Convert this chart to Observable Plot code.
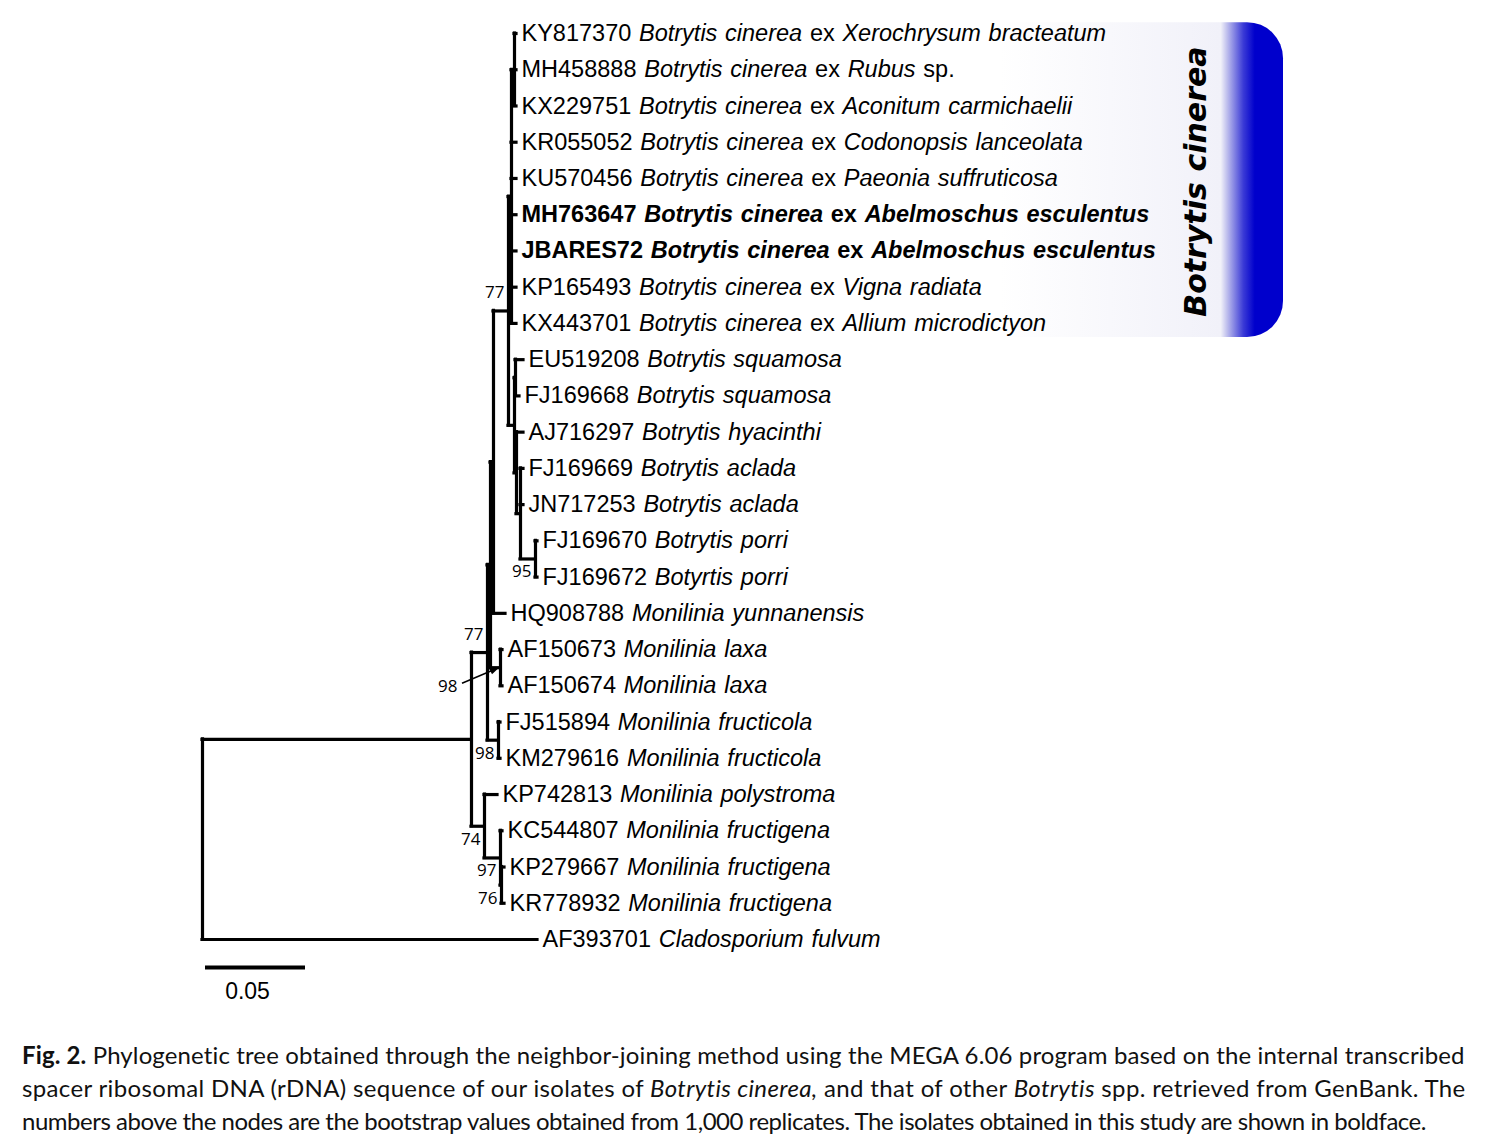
<!DOCTYPE html>
<html><head><meta charset="utf-8">
<script src="https://cdn.jsdelivr.net/npm/d3@7"></script>
<script src="https://cdn.jsdelivr.net/npm/@observablehq/plot@0.6"></script>
<style>
body{margin:0;background:#fff;}
#caption{font-family:Lato,"Noto Sans",sans-serif;color:#111;padding-left:22px;width:1443px;}
#caption div{white-space:nowrap;line-height:33px;height:33px;}
#caption span{display:inline-block;}
</style></head><body>
<div id="chart"></div>
<div id="caption"></div>
<script>
// Tree topology with branch lengths (substitutions/site) and bootstrap values as internal node names
const newick = "((((((((KY817370:0.001,MH458888:0.001,KX229751:0.001):0.0015,KR055052:0.0025,KU570456:0.0025,MH763647:0.0025,JBARES72:0.0025,KP165493:0.0025,KX443701:0.0025):0.0015,((EU519208:0.004,FJ169668:0.002):0.0005,(AJ716297:0.0035,(FJ169669:0.0015,JN717253:0.0015,(FJ169670:0.001,FJ169672:0.001)95:0.0075):0.002):0.001):0.003)77:0.0075,HQ908788:0.006):0.0015,(AF150673:0.001,AF150674:0.001)98:0.005):0.0015,(FJ515894:0.001,KM279616:0.001)98:0.0055)77:0.008,(KP742813:0.0065,(KC544807:0.001,(KP279667:0.0015,KR778932:0.0015)76:0.0005)97:0.008)74:0.0065):0.1345,AF393701:0.1675);";

const accessions = ["KY817370","MH458888","KX229751","KR055052","KU570456","MH763647","JBARES72","KP165493","KX443701","EU519208","FJ169668","AJ716297","FJ169669","JN717253","FJ169670","FJ169672","HQ908788","AF150673","AF150674","FJ515894","KM279616","KP742813","KC544807","KP279667","KR778932","AF393701"];
const species = ["Botrytis cinerea","Botrytis cinerea","Botrytis cinerea","Botrytis cinerea","Botrytis cinerea","Botrytis cinerea","Botrytis cinerea","Botrytis cinerea","Botrytis cinerea","Botrytis squamosa","Botrytis squamosa","Botrytis hyacinthi","Botrytis aclada","Botrytis aclada","Botrytis porri","Botyrtis porri","Monilinia yunnanensis","Monilinia laxa","Monilinia laxa","Monilinia fructicola","Monilinia fructicola","Monilinia polystroma","Monilinia fructigena","Monilinia fructigena","Monilinia fructigena","Cladosporium fulvum"];
const hosts = ["Xerochrysum bracteatum","Rubus sp.","Aconitum carmichaelii","Codonopsis lanceolata","Paeonia suffruticosa","Abelmoschus esculentus","Abelmoschus esculentus","Vigna radiata","Allium microdictyon","","","","","","","","","","","","","","","","",""];
const isolates = ["MH763647","JBARES72"];
const cladeName = "Botrytis cinerea";
const cladeMembers = ["KY817370","KX443701"]; // first and last member of highlighted clade
const calloutNode = "AF150673"; // bootstrap label drawn with arrow (first leaf of that node)
const scaleBarLength = 0.05;
const scaleBarLabel = "0.05";
const captionLines = [
  "<b>Fig. 2.</b> Phylogenetic tree obtained through the neighbor-joining method using the MEGA 6.06 program based on the internal transcribed",
  "spacer ribosomal DNA (rDNA) sequence of our isolates of <i>Botrytis cinerea,</i> and that of other <i>Botrytis</i> spp. retrieved from GenBank. The",
  "numbers above the nodes are the bootstrap values obtained from 1,000 replicates. The isolates obtained in this study are shown in boldface."
];

function parseNewick(s) {
  let i = 0;
  function node() {
    const n = {children: []};
    if (s[i] === "(") {
      i++;
      n.children.push(node());
      while (s[i] === ",") { i++; n.children.push(node()); }
      i++;
    }
    let name = "";
    while (i < s.length && !",():;".includes(s[i])) name += s[i++];
    n.name = name;
    n.length = 0;
    if (s[i] === ":") {
      i++; let len = "";
      while (i < s.length && !",();".includes(s[i])) len += s[i++];
      n.length = +len;
    }
    return n;
  }
  return node();
}

const root = parseNewick(newick);
const nodes = [];
let leafCount = 0;
(function layout(n, parent) {
  n.parent = parent;
  n.x = parent ? parent.x + n.length : 0;
  nodes.push(n);
  if (n.children.length) {
    n.children.forEach(c => layout(c, n));
    n.y = (n.children[0].y + n.children[n.children.length - 1].y) / 2;
    n.first = n.children[0].first;
  } else { n.y = leafCount++; n.first = n.name; }
})(root, null);

const leaves = nodes.filter(n => !n.children.length);
const internal = nodes.filter(n => n.children.length);
const edges = nodes.filter(n => n.parent);
const boot = internal.filter(n => n.name && n.first !== calloutNode);
const bootAbove = boot.filter(n => n.parent.children[0] === n);
const bootBelow = boot.filter(n => n.parent.children[0] !== n);
const callout = internal.filter(n => n.first === calloutNode);

const W = 1494, H = 1038;
const lineW = 3.2;
const fig = Plot.plot({
  width: W, height: H, margin: 0,
  style: {background: "transparent"},
  x: {type: "linear", domain: [0, 0.05], range: [202, 302], axis: null},
  y: {type: "linear", domain: [0, 25], range: [33, 939], axis: null},
  marks: [
    Plot.ruleY(edges, {y: "y", x1: d => d.parent.x, x2: "x", stroke: "#000", strokeWidth: lineW, strokeLinecap: "square"}),
    Plot.ruleX(internal, {x: "x", y1: d => d.children[0].y, y2: d => d.children[d.children.length - 1].y, stroke: "#000", strokeWidth: lineW, strokeLinecap: "square"}),
    Plot.text(leaves, {x: "x", y: "y", text: "name", dx: 5, textAnchor: "start", fontSize: 23.5, fontFamily: "Liberation Sans, Arial, sans-serif", fill: "#000"}),
    Plot.text(bootAbove, {x: "x", y: "y", text: "name", dx: -4, dy: -18, textAnchor: "end", fontSize: 17, fontFamily: "Open Sans, Noto Sans, sans-serif", fill: "#000"}),
    Plot.text(bootBelow, {x: "x", y: "y", text: "name", dx: -4, dy: 13, textAnchor: "end", fontSize: 17, fontFamily: "Open Sans, Noto Sans, sans-serif", fill: "#000"}),
    Plot.text(callout, {x: "x", y: "y", text: "name", dx: -43, dy: 19, textAnchor: "end", fontSize: 17, fontFamily: "Open Sans, Noto Sans, sans-serif", fill: "#000"}),
    Plot.ruleY([leafCount - 1 + 0.77], {x1: 0, x2: scaleBarLength, dx: 3, stroke: "#000", strokeWidth: 4}),
    Plot.text([scaleBarLabel], {x: scaleBarLength / 2, y: leafCount - 1 + 1.43, text: d => d, dx: -5, fontSize: 23, fontFamily: "Liberation Sans, Arial, sans-serif", fill: "#000"})
  ]
});
document.getElementById("chart").appendChild(fig);

const sx = fig.scale("x"), sy = fig.scale("y");
const svg = d3.select(fig);

// mixed-style leaf labels
const accSet = new Map(accessions.map((a, i) => [a, i]));
svg.selectAll("text").each(function() {
  const t = d3.select(this);
  const txt = this.textContent;
  if (!accSet.has(txt)) return;
  const i = accSet.get(txt);
  const bold = isolates.includes(txt);
  t.text(null).attr("font-weight", bold ? "bold" : null).style("white-space", "pre").attr("word-spacing", 1.2);
  t.append("tspan").text(txt + " ");
  t.append("tspan").attr("font-style", "italic").text(species[i]);
  if (hosts[i]) {
    t.append("tspan").text(" ex ");
    const m = hosts[i].match(/^(.*?)( sp\.)?$/);
    t.append("tspan").attr("font-style", "italic").text(m[1]);
    if (m[2]) t.append("tspan").text(m[2]);
  }
});

// callout arrow for crowded bootstrap label
callout.forEach(n => {
  const x = sx.apply(n.x), y = sy.apply(n.y);
  svg.append("line").attr("x1", x - 38).attr("y1", y + 16).attr("x2", x - 5).attr("y2", y + 2)
    .attr("stroke", "#000").attr("stroke-width", 1.5);
  svg.append("path").attr("d", `M${x-1},${y+0.5} L${x-11},${y+1} L${x-8},${y+7} Z`).attr("fill", "#000");
});

// highlighted clade box
const leafY = name => leaves.find(l => l.name === name).y;
const by0 = sy.apply(leafY(cladeMembers[0]) - 0.3), by1 = sy.apply(leafY(cladeMembers[1]) + 0.39);
const bx0 = 1000, bx1 = 1283, r = 36;
const defs = svg.insert("defs", ":first-child");
const g = defs.append("linearGradient").attr("id", "cladeGrad").attr("x1", 0).attr("x2", 1).attr("y1", 0).attr("y2", 0);
[[0, "#ffffff"], [0.78, "#f1f1f9"], [0.80, "#c4c4ee"], [0.86, "#3a3ad6"], [0.9, "#0000cc"], [1, "#0000cc"]]
  .forEach(([o, c]) => g.append("stop").attr("offset", o).attr("stop-color", c));
svg.insert("path", "defs + *")
  .attr("d", `M${bx0},${by0} H${bx1 - r} A${r},${r} 0 0 1 ${bx1},${by0 + r} V${by1 - r} A${r},${r} 0 0 1 ${bx1 - r},${by1} H${bx0} Z`)
  .attr("fill", "url(#cladeGrad)");
svg.append("text")
  .attr("transform", `translate(1195,${(by0 + by1) / 2 + 2}) rotate(-90)`)
  .attr("text-anchor", "middle").attr("dominant-baseline", "central")
  .attr("font-family", "DejaVu Sans, Verdana, sans-serif").attr("font-weight", "bold").attr("font-style", "italic")
  .attr("font-size", 30).attr("fill", "#000").text(cladeName);

// caption: common size, then each line fitted to its measured width with letter-spacing
const cap = document.getElementById("caption");
const spans = captionLines.map(h => {
  const d = document.createElement("div");
  const s = document.createElement("span");
  s.innerHTML = h; d.appendChild(s); cap.appendChild(d); return s;
});
const targets = [1443, 1443, 1404];
cap.style.fontSize = "100px";
const ratios = spans.map((s, k) => 100 * targets[k] / s.getBoundingClientRect().width);
const fs = d3.mean(ratios);
cap.style.fontSize = fs + "px";
spans.forEach((s, k) => {
  const w = s.getBoundingClientRect().width;
  const n = s.textContent.length;
  s.style.letterSpacing = ((targets[k] - w) / n) + "px";
});
</script>
</body></html>
